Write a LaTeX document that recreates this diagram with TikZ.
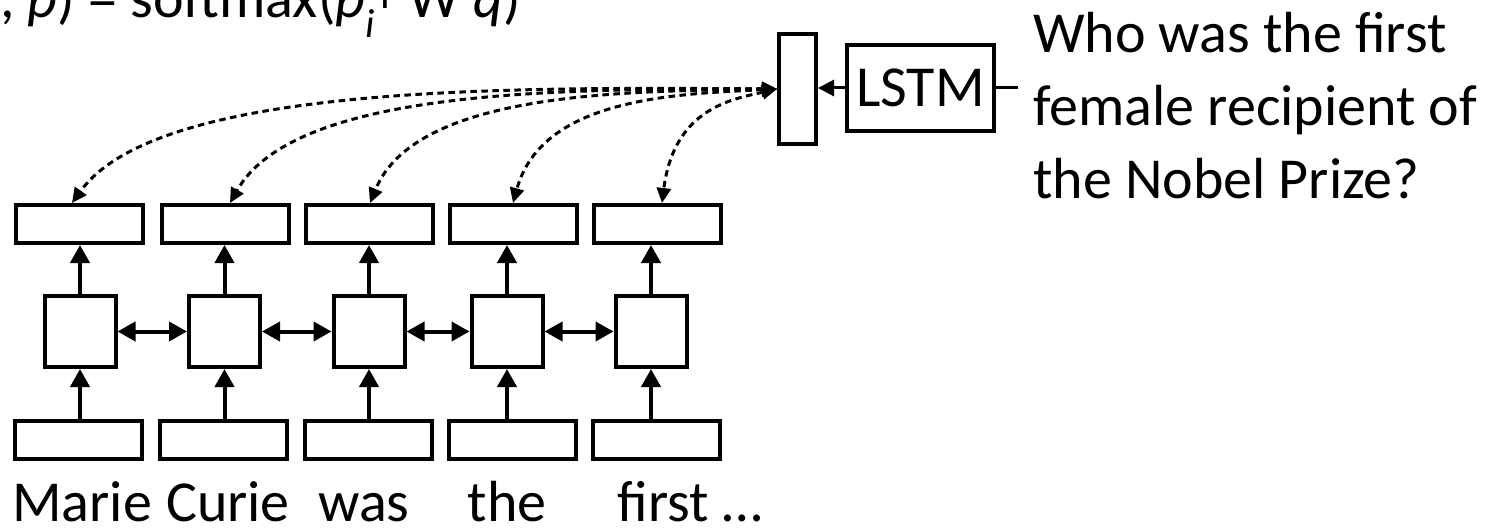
\documentclass[tikz,border=0pt]{standalone}
\usepackage{fontspec}
\setmainfont{Carlito}
\usetikzlibrary{arrows.meta}

\begin{document}
\begin{tikzpicture}[x=1pt,y=1pt,
  box/.style={draw, line width=4pt, inner sep=0pt},
  vec/.style={box, minimum width=127pt, minimum height=38pt},
  cell/.style={box, minimum width=71pt, minimum height=71pt},
  head/.style={Triangle[length=18pt,width=19pt]},
  flow/.style={line width=4pt, -{Triangle[length=18pt,width=19pt]}},
  link/.style={line width=4pt, {Triangle[length=18pt,width=19pt]}-{Triangle[length=18pt,width=19pt]}},
  attn/.style={line width=3pt, dash pattern=on 6.5pt off 4.5pt,
    {Triangle[length=15pt,width=14pt]}-{Triangle[length=15pt,width=14pt]}},
  big/.style={font=\fontsize{58}{73}\selectfont, inner sep=0pt},
  word/.style={big, anchor=base},
]
\useasboundingbox (0,0) rectangle (1512,-532);

% passage encoder: embeddings, BiLSTM cells, output vectors
\foreach \n/\tx/\mx/\bx in {1/79.5/80/78.3, 2/225/224.5/223.5, 3/369.5/369/368.8,
                              4/513/507/512, 5/657/651/656.5} {
  \node[vec]  (t\n) at (\tx,-224) {};
  \node[cell] (m\n) at (\mx,-331.5) {};
  \node[vec]  (b\n) at (\bx,-439.5) {};
}
\foreach \n in {1,...,5} {
  \draw[flow] (b\n.north -| m\n) -- (m\n.south);
  \draw[flow] (m\n.north) -- (m\n.north |- t\n.south);
}
\foreach \a/\b in {1/2,2/3,3/4,4/5}
  \draw[link] (m\a.east) -- (m\b.west);

% passage words
\node[word] (w1) at (82,-521)  {Marie};
\node[word] (w2) at (228,-521) {Curie};
\node[word] (w3) at (364,-521) {was};
\node[word] (w4) at (507,-521) {the};
\node[word] (w5) at (690,-521) {first …};

% question encoder
\node[box, minimum width=37pt, minimum height=110pt] (enc) at (797.5,-89) {};
\node[box, minimum width=147pt, minimum height=86pt, font=\fontsize{58}{60}\selectfont]
  (lstm) at (920.5,-88) {LSTM};
\draw[line width=3pt, -{Triangle[length=16pt,width=16pt]}] (lstm.west) -- (lstm.west -| enc.east);
\coordinate (qin) at (1018,-88);
\draw[line width=3pt] (lstm.east) -- (qin);
\node[big, anchor=north west, align=left] (question) at (1033,-12)
  {Who was the first\\female recipient of\\the Nobel Prize?};

% attention between question vector and passage vectors
\draw[attn] (enc.west) .. controls +(-275,2) and +(85,118) .. ([xshift=-7.5pt]t1.north);
\draw[attn] (enc.west) .. controls +(-213,0) and +(65,115) .. ([xshift=5pt]t2.north);
\draw[attn] (enc.west) .. controls +(-158,-2) and +(45,110) .. ([xshift=0.5pt]t3.north);
\draw[attn] (enc.west) .. controls +(-102,-5) and +(29,105) .. (t4.north);
\draw[attn] (enc.west) .. controls +(-44,-10) and +(12,95) .. ([xshift=5pt]t5.north);

% attention score
\begin{scope}
  \clip (0,0) rectangle (1512,-532);
  \node[big, anchor=base east] (score) at (521,-18)
    {, \textit{p}) = softmax(\textit{p}\textsubscript{\textit{i}}\textsuperscript{T} W \textit{q})};
\end{scope}
\end{tikzpicture}
\end{document}
